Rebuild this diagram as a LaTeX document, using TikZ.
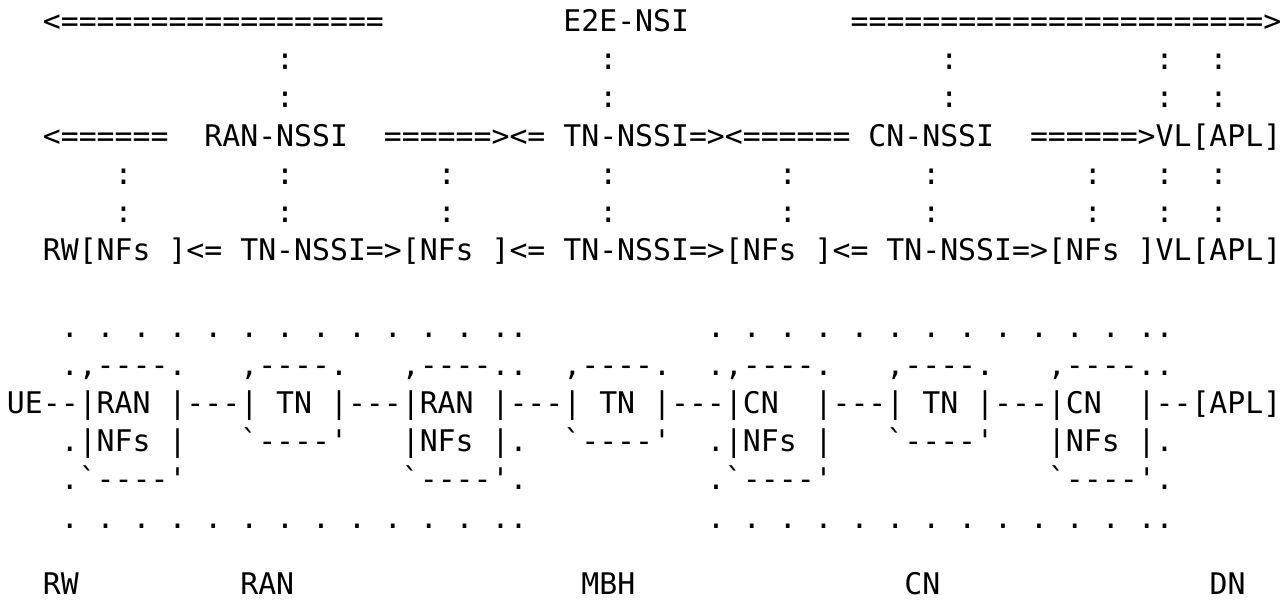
\documentclass[tikz,border=0pt]{standalone}
\usepackage{fontspec}
\setmonofont{DejaVu Sans Mono}
\newcommand\spc[1]{\kern#1\fontcharwd\font`\x\relax}
\newcommand\dsp{.\spc{1}}
\begin{document}
\frenchspacing
\begin{tikzpicture}[x=0.75pt,y=-0.75pt,
  row/.style={anchor=base west, inner sep=0pt, outer sep=0pt, text=black,
    font=\ttfamily\fontsize{22.36pt}{28.8pt}\selectfont}]
\useasboundingbox (0,0) rectangle (1286,603);
\fill[white] (0,0) rectangle (1286,603);
\def\xo{7}
% top part: slice hierarchy
\node[row] (l0) at (\xo,31.5) {\spc{2}<==================\spc{10}E2E-NSI\spc{9}=======================>};
\node[row] (l1) at (\xo,69.7) {\spc{15}:\spc{17}:\spc{18}:\spc{11}:\spc{2}:};
\node[row] (l2) at (\xo,107.9) {\spc{15}:\spc{17}:\spc{18}:\spc{11}:\spc{2}:};
\node[row] (l3) at (\xo,146.1) {\spc{2}<======\spc{2}RAN-NSSI\spc{2}======><=\spc{1}TN-NSSI=><======\spc{1}CN-NSSI\spc{2}======>VL[APL]};
\node[row] (l4) at (\xo,184.3) {\spc{6}:\spc{8}:\spc{8}:\spc{8}:\spc{9}:\spc{7}:\spc{8}:\spc{3}:\spc{2}:};
\node[row] (l5) at (\xo,222.5) {\spc{6}:\spc{8}:\spc{8}:\spc{8}:\spc{9}:\spc{7}:\spc{8}:\spc{3}:\spc{2}:};
\node[row] (l6) at (\xo,260.7) {\spc{2}RW[NFs\spc{1}]<=\spc{1}TN-NSSI=>[NFs\spc{1}]<=\spc{1}TN-NSSI=>[NFs\spc{1}]<=\spc{1}TN-NSSI=>[NFs\spc{1}]VL[APL]};
% bottom part: domains
\node[row] (l8) at (\xo,337.1) {\spc{3}\dsp\dsp\dsp\dsp\dsp\dsp\dsp\dsp\dsp\dsp\dsp\dsp..\spc{10}\dsp\dsp\dsp\dsp\dsp\dsp\dsp\dsp\dsp\dsp\dsp\dsp..};
\node[row] (l9) at (\xo,375.3) {\spc{3}.,----.\spc{3},----.\spc{3},----..\spc{2},----.\spc{2}.,----.\spc{3},----.\spc{3},----..};
\node[row] (l10) at (\xo,413.5) {UE--|RAN\spc{1}|---|\spc{1}TN\spc{1}|---|RAN\spc{1}|---|\spc{1}TN\spc{1}|---|CN\spc{2}|---|\spc{1}TN\spc{1}|---|CN\spc{2}|--[APL]};
\node[row] (l11) at (\xo,451.7) {\spc{3}.|NFs\spc{1}|\spc{3}`----'\spc{3}|NFs\spc{1}|.\spc{2}`----'\spc{2}.|NFs\spc{1}|\spc{3}`----'\spc{3}|NFs\spc{1}|.};
\node[row] (l12) at (\xo,489.9) {\spc{3}.`----'\spc{12}`----'.\spc{10}.`----'\spc{12}`----'.};
\node[row] (l13) at (\xo,528.1) {\spc{3}\dsp\dsp\dsp\dsp\dsp\dsp\dsp\dsp\dsp\dsp\dsp\dsp..\spc{10}\dsp\dsp\dsp\dsp\dsp\dsp\dsp\dsp\dsp\dsp\dsp\dsp..};
\node[row] (l15) at (\xo,594) {\spc{2}RW\spc{9}RAN\spc{16}MBH\spc{15}CN\spc{15}DN};
\end{tikzpicture}
\end{document}
